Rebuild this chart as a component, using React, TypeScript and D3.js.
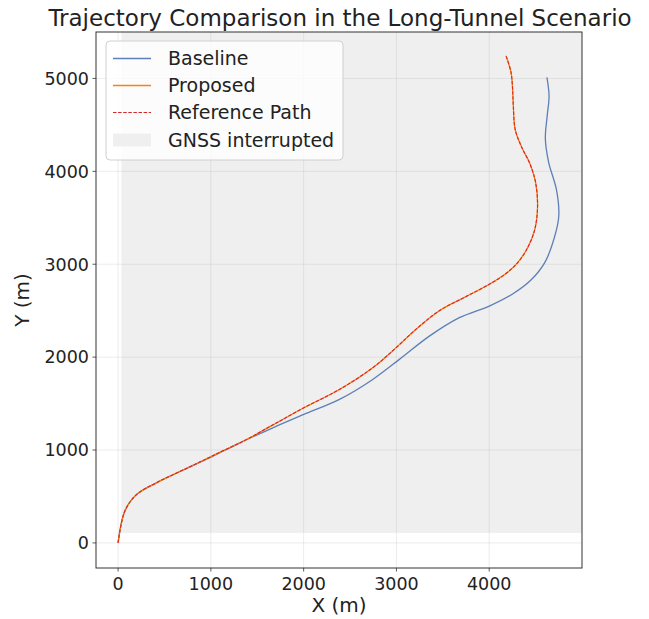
import React from "react";
import * as d3 from "d3";

const xTicks = [0, 1000, 2000, 3000, 4000];
const yTicks = [0, 1000, 2000, 3000, 4000, 5000];

const refX = [0, 72, 198, 413, 772, 1023, 1382, 1668, 2002, 2386, 2745, 3000, 3200, 3463, 3750, 4001, 4181, 4300, 4410, 4490, 4521, 4500, 4440, 4350, 4280, 4260, 4252, 4235, 4181];
const refY = [0, 341, 520, 647, 818, 940, 1112, 1270, 1455, 1652, 1886, 2105, 2290, 2500, 2652, 2784, 2900, 3010, 3170, 3370, 3620, 3880, 4080, 4260, 4450, 4700, 4885, 5065, 5244];

const propX = [0, 72, 198, 413, 772, 1023, 1382, 1668, 2002, 2386, 2745, 3000, 3200, 3463, 3750, 4001, 4181, 4300, 4410, 4490, 4521, 4500, 4440, 4350, 4280, 4260, 4252, 4235, 4181];
const propY = [0, 341, 520, 647, 818, 940, 1112, 1270, 1455, 1652, 1886, 2105, 2290, 2500, 2652, 2784, 2900, 3010, 3170, 3370, 3620, 3880, 4080, 4260, 4450, 4700, 4885, 5065, 5244];

const baseX = [0, 72, 198, 413, 772, 1023, 1309, 1668, 2002, 2386, 2745, 3032, 3355, 3678, 4001, 4252, 4450, 4600, 4700, 4750, 4725, 4640, 4605, 4625, 4645, 4622];
const baseY = [0, 341, 520, 647, 818, 935, 1075, 1239, 1383, 1545, 1760, 1976, 2226, 2425, 2550, 2680, 2830, 3020, 3280, 3520, 3800, 4100, 4350, 4600, 4810, 5011];

const gnssX = [35, 5000];
const gnssY = [108, 5500];

const legendLabels = ["Baseline", "Proposed", "Reference Path", "GNSS interrupted"];

const FONT = "DejaVu Sans, sans-serif";

export default function App() {
  const L = 96, R = 582, T = 32, B = 568;
  const x = d3.scaleLinear().domain([-238, 5000]).range([L, R]);
  const y = d3.scaleLinear().domain([-270, 5500]).range([B, T]);

  const mk = (xs: number[], ys: number[]) =>
    d3.line<number>()
      .x((_, i) => x(xs[i]))
      .y((_, i) => y(ys[i]))
      .curve(d3.curveCatmullRom.alpha(0.5))(xs.map((v) => v)) as string;

  const blue = "#4c72b0";
  const orange = "#ff7f0e";
  const red = "#d62728";
  const gray = "#efefef";

  const legY = [58.5, 85.5, 112.5, 140];

  return (
    <svg width={649} height={619} style={{ position: "absolute", left: 0, top: 0, background: "#fff" }} fontFamily={FONT}>
      <defs>
        <clipPath id="plot">
          <rect x={L} y={T} width={R - L} height={B - T} />
        </clipPath>
      </defs>
      <g clipPath="url(#plot)">
        <rect
          x={x(gnssX[0])}
          y={y(gnssY[1])}
          width={x(gnssX[1]) - x(gnssX[0])}
          height={y(gnssY[0]) - y(gnssY[1])}
          fill={gray}
        />
        {xTicks.map((t) => (
          <line key={"gx" + t} x1={x(t)} x2={x(t)} y1={T} y2={B} stroke="#b0b0b0" strokeOpacity={0.3} strokeWidth={0.8} />
        ))}
        {yTicks.map((t) => (
          <line key={"gy" + t} x1={L} x2={R} y1={y(t)} y2={y(t)} stroke="#b0b0b0" strokeOpacity={0.3} strokeWidth={0.8} />
        ))}
        <path d={mk(baseX, baseY)} fill="none" stroke={blue} strokeWidth={1.3} strokeOpacity={0.9} />
        <path d={mk(propX, propY)} fill="none" stroke={orange} strokeWidth={1.3} />
        <path d={mk(refX, refY)} fill="none" stroke={red} strokeWidth={1.1} strokeDasharray="3.5,1.6" />
      </g>
      <rect x={L} y={T} width={R - L} height={B - T} fill="none" stroke="#333" strokeWidth={1} />
      {xTicks.map((t) => (
        <g key={"tx" + t}>
          <line x1={x(t)} x2={x(t)} y1={B} y2={B + 3.5} stroke="#333" strokeWidth={0.8} />
          <text x={x(t)} y={590} textAnchor="middle" fontSize={17.5} fill="#222">{t}</text>
        </g>
      ))}
      {yTicks.map((t) => (
        <g key={"ty" + t}>
          <line x1={L - 3.5} x2={L} y1={y(t)} y2={y(t)} stroke="#333" strokeWidth={0.8} />
          <text x={89} y={y(t)} dy="0.36em" textAnchor="end" fontSize={17.5} fill="#222">{t}</text>
        </g>
      ))}
      <text x={(L + R) / 2} y={612} textAnchor="middle" fontSize={20} fill="#222">X (m)</text>
      <text transform={`translate(29,${(T + B) / 2}) rotate(-90)`} textAnchor="middle" fontSize={20} fill="#222">Y (m)</text>
      <text x={340} y={26} textAnchor="middle" fontSize={23} fill="#222">Trajectory Comparison in the Long-Tunnel Scenario</text>

      <rect x={106} y={41} width={237} height={119} rx={4} fill="#fff" fillOpacity={0.8} stroke="#d0d0d0" strokeWidth={1} />
      <line x1={113} x2={151} y1={legY[0]} y2={legY[0]} stroke={blue} strokeWidth={1.3} strokeOpacity={0.9} />
      <line x1={113} x2={151} y1={legY[1]} y2={legY[1]} stroke={orange} strokeWidth={1.3} />
      <line x1={113} x2={151} y1={legY[2]} y2={legY[2]} stroke={red} strokeWidth={1.1} strokeDasharray="3.5,1.6" />
      <rect x={113} y={legY[3] - 6.5} width={38} height={13} fill={gray} />
      {legendLabels.map((s, i) => (
        <text key={s} x={168} y={legY[i]} dy="0.36em" fontSize={19} fill="#222">{s}</text>
      ))}
    </svg>
  );
}
